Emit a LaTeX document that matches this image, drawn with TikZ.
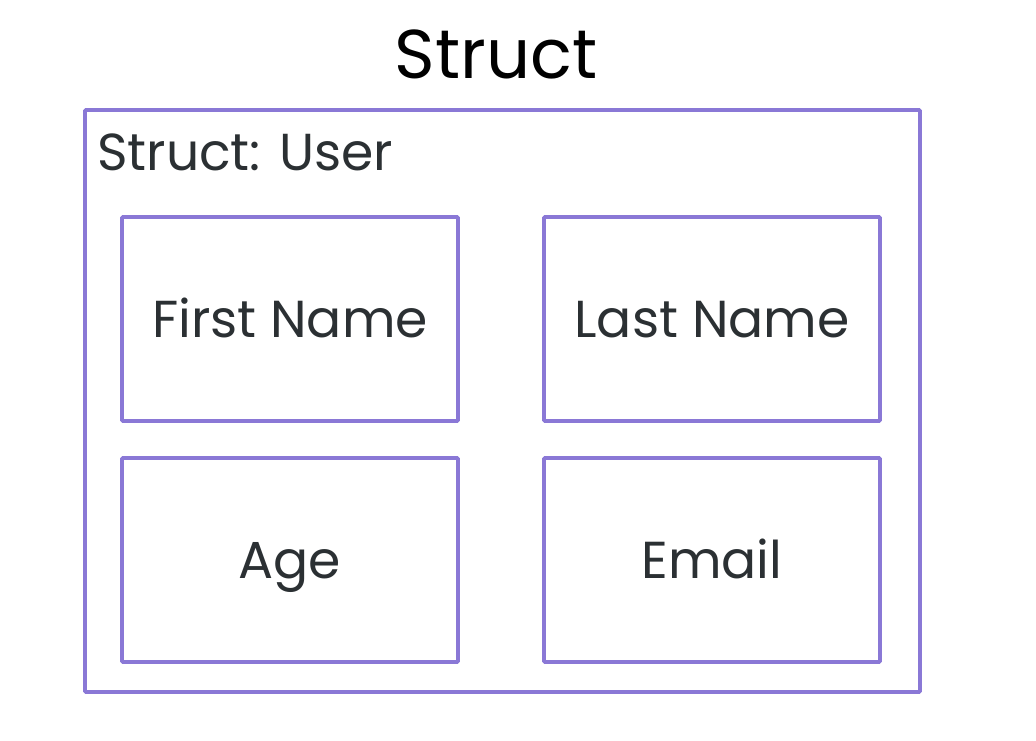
\documentclass[tikz,border=0pt]{standalone}
\usepackage{fontspec}
\setmainfont{Poppins}
\definecolor{boxpurple}{HTML}{8A78D6}
\definecolor{txt}{HTML}{2B3033}
\begin{document}
\begin{tikzpicture}[x=1pt,y=-1pt,
  field/.style={draw=boxpurple,line width=3.6pt,rounded corners=1pt,minimum width=336pt,minimum height=204pt,inner sep=0pt,text=txt,text height=37pt,text depth=0pt,font=\fontsize{52}{52}\selectfont},
  outer/.style={draw=boxpurple,line width=3.6pt,rounded corners=1pt}]
\useasboundingbox (0,0) rectangle (1036,740);
\node[anchor=base,font=\fontsize{69}{69}\selectfont,text=black] (title) at (496,78) {Struct};
\node[outer,minimum width=835pt,minimum height=582pt,inner sep=0pt] (user) at (502.5,401) {};
\node[anchor=base west,font=\fontsize{52}{52}\selectfont,text=txt,inner sep=0pt] (lbl) at (97,170) {Struct: User};
\node[field] (first) at (290,319) {First Name};
\node[field] (last) at (712,319) {Last Name};
\node[field] (age) at (290,560) {Age};
\node[field] (email) at (712,560) {Email};
\end{tikzpicture}
\end{document}
